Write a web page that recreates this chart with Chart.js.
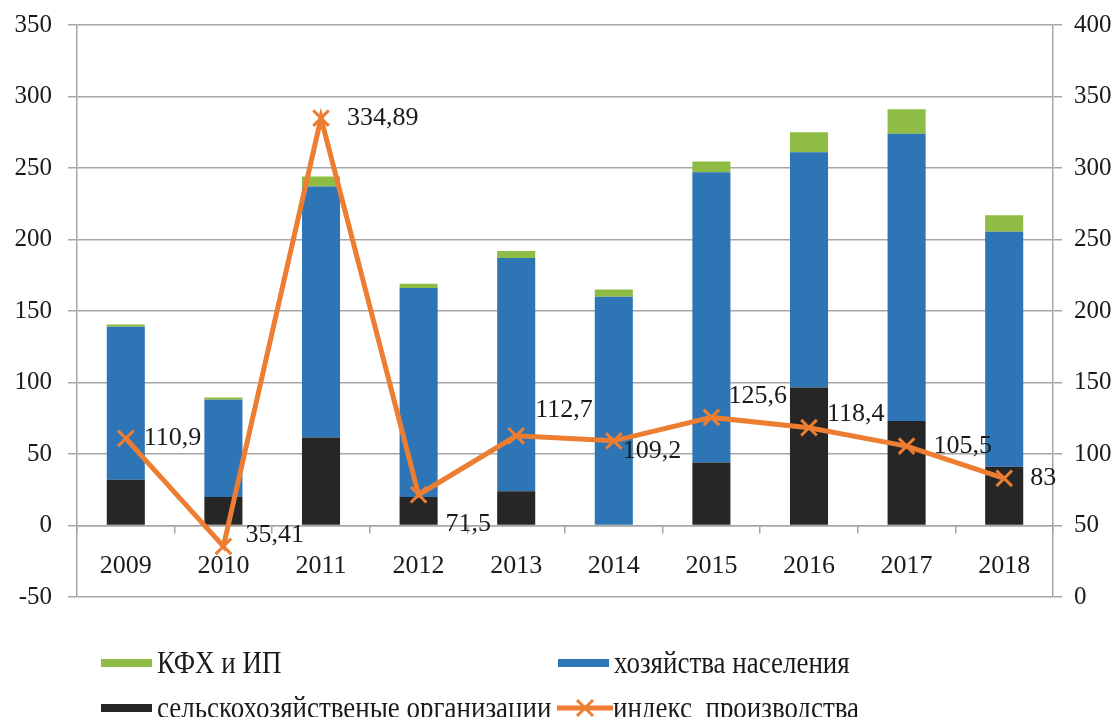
<!DOCTYPE html>
<html>
<head>
<meta charset="utf-8">
<script src="https://cdn.jsdelivr.net/npm/chart.js@4"></script>
<style>
  html, body { margin: 0; padding: 0; background: #fff; }
  #wrap { position: relative; width: 1120px; height: 717px; overflow: hidden; }
  .leg { position: absolute; font-family: "Liberation Serif", serif; font-size: 31px; color: #1a1a1a; white-space: nowrap; }
  .leg span.t { display: inline-block; transform-origin: left center; transform: scaleX(0.87); }
  .sw { position: absolute; height: 8px; width: 51px; }
</style>
</head>
<body>
<div id="wrap">
  <canvas id="chart" width="1120" height="717"></canvas>
  <div id="legend"></div>
</div>
<script>
// ============================
// DATA
// ============================

const years = ["2009", "2010", "2011", "2012", "2013", "2014", "2015", "2016", "2017", "2018"];

const orgs = [32, 20, 61.5, 20, 24, 0, 44, 96.5, 73, 41];             // сельскохозяйственые организации
const households = [107, 68, 175.5, 146, 163, 160, 203, 164.5, 201, 164.5]; // хозяйства населения
const farms = [1.5, 1.5, 7, 3, 5, 5, 7.5, 14, 17, 11.5];              // КФХ и ИП
const prodIndex = [110.9, 35.41, 334.89, 71.5, 112.7, 109.2, 125.6, 118.4, 105.5, 83];
const prodIndexText = ["110,9", "35,41", "334,89", "71,5", "112,7", "109,2", "125,6", "118,4", "105,5", "83"];

const leftTicks = [-50, 0, 50, 100, 150, 200, 250, 300, 350];
const rightTicks = [0, 50, 100, 150, 200, 250, 300, 350, 400];

// ============================
// STYLE
// ============================

const FONT = "Liberation Serif";
const TEXT = "#1a1a1a";
const GRID = "#a6a6a6";
const COLORS = {
  green: "#8fbc45",
  blue: "#2e75b6",
  black: "#262626",
  orange: "#ed7d31"
};

// ============================
// PLUGIN: point labels
// ============================

const pointLabels = {
  id: "pointLabels",
  afterDatasetsDraw(chart, args, opts) {
    const meta = chart.getDatasetMeta(opts.datasetIndex);
    const ctx = chart.ctx;
    ctx.save();
    ctx.font = `26px "${FONT}"`;
    ctx.fillStyle = TEXT;
    ctx.textAlign = "left";
    ctx.textBaseline = "middle";
    meta.data.forEach((pt, i) => {
      ctx.fillText(opts.texts[i], pt.x + opts.dx[i], pt.y + opts.dy[i]);
    });
    ctx.restore();
  }
};

// vertical axes: fixed width, no extra top/bottom padding
function fitVertical(width) {
  return (s) => {
    s.width = width;
    s.paddingTop = 0;
    s.paddingBottom = 0;
  };
}

// ============================
// CHART
// ============================

const ctx = document.getElementById("chart");

new Chart(ctx, {
  data: {
    labels: years,
    datasets: [
      {
        type: "line",
        label: "индекс  производства",
        data: prodIndex,
        yAxisID: "y1",
        borderColor: COLORS.orange,
        borderWidth: 5,
        pointStyle: "crossRot",
        pointRadius: 11,
        pointBorderWidth: 3,
        pointBorderColor: COLORS.orange,
        tension: 0,
        order: 0
      },
      {
        type: "bar",
        label: "сельскохозяйственые организации",
        data: orgs,
        backgroundColor: COLORS.black,
        yAxisID: "y",
        stack: "s",
        barPercentage: 0.39,
        categoryPercentage: 1,
        order: 1
      },
      {
        type: "bar",
        label: "хозяйства населения",
        data: households,
        backgroundColor: COLORS.blue,
        yAxisID: "y",
        stack: "s",
        barPercentage: 0.39,
        categoryPercentage: 1,
        order: 1
      },
      {
        type: "bar",
        label: "КФХ и ИП",
        data: farms,
        backgroundColor: COLORS.green,
        yAxisID: "y",
        stack: "s",
        barPercentage: 0.39,
        categoryPercentage: 1,
        order: 1
      }
    ]
  },
  options: {
    responsive: false,
    animation: false,
    layout: { padding: { left: 0, right: 0, top: 25, bottom: 120 } },
    plugins: {
      legend: { display: false },
      tooltip: { enabled: false },
      pointLabels: {
        datasetIndex: 0,
        texts: prodIndexText,
        dx: [18, 22, 26, 27, 19, 9, 17, 18, 27, 26],
        dy: [0, -11, 0, 29, -26, 10, -21, -14, 0, 0]
      }
    },
    scales: {
      x: {
        stacked: true,
        position: { y: 0 },
        grid: { display: true, drawOnChartArea: false, offset: true, tickLength: 7, color: GRID, lineWidth: 1.5 },
        border: { display: true, color: GRID, width: 1.5 },
        ticks: { font: { family: FONT, size: 26 }, color: TEXT, padding: 18 }
      },
      y: {
        position: "left",
        stacked: true,
        min: -50,
        max: 350,
        afterBuildTicks: (s) => { s.ticks = leftTicks.map(v => ({ value: v })); },
        afterFit: fitVertical(77),
        grid: { color: GRID, lineWidth: 1.5, tickLength: 9 },
        border: { display: true, color: GRID, width: 1.5 },
        ticks: { font: { family: FONT, size: 25 }, color: TEXT, padding: 16 }
      },
      y1: {
        position: "right",
        min: 0,
        max: 400,
        afterBuildTicks: (s) => { s.ticks = rightTicks.map(v => ({ value: v })); },
        afterFit: fitVertical(67),
        grid: { drawOnChartArea: false, color: GRID, lineWidth: 1.5, tickLength: 9 },
        border: { display: true, color: GRID, width: 1.5 },
        ticks: { font: { family: FONT, size: 25 }, color: TEXT, padding: 12, align: "center" }
      }
    }
  },
  plugins: [pointLabels]
});

// ============================
// LEGEND (2x2 grid)
// ============================

const legendItems = [
  { text: "КФХ и ИП", kind: "box", color: COLORS.green, x: 101, y: 663 },
  { text: "хозяйства населения", kind: "box", color: COLORS.blue, x: 558, y: 663 },
  { text: "сельскохозяйственые организации", kind: "box", color: COLORS.black, x: 101, y: 708 },
  { text: "индекс  производства", kind: "line", color: COLORS.orange, x: 557, y: 708 }
];

const legendEl = document.getElementById("legend");
legendItems.forEach(item => {
  if (item.kind === "box") {
    const sw = document.createElement("div");
    sw.className = "sw";
    sw.style.left = item.x + "px";
    sw.style.top = (item.y - 4) + "px";
    sw.style.background = item.color;
    legendEl.appendChild(sw);
  } else {
    const svgNS = "http://www.w3.org/2000/svg";
    const svg = document.createElementNS(svgNS, "svg");
    svg.setAttribute("width", "56");
    svg.setAttribute("height", "24");
    svg.style.position = "absolute";
    svg.style.left = item.x + "px";
    svg.style.top = (item.y - 12) + "px";
    svg.innerHTML = `<line x1="0" y1="12" x2="56" y2="12" stroke="${item.color}" stroke-width="5"/>
      <line x1="20" y1="4" x2="36" y2="20" stroke="${item.color}" stroke-width="3"/>
      <line x1="36" y1="4" x2="20" y2="20" stroke="${item.color}" stroke-width="3"/>`;
    legendEl.appendChild(svg);
  }
  const t = document.createElement("div");
  t.className = "leg";
  t.style.left = (item.x + 56) + "px";
  t.style.top = (item.y - 18) + "px";
  t.style.lineHeight = "36px";
  t.innerHTML = `<span class="t">${item.text.replace(/ /g, "&nbsp;")}</span>`;
  legendEl.appendChild(t);
});
</script>
</body>
</html>
